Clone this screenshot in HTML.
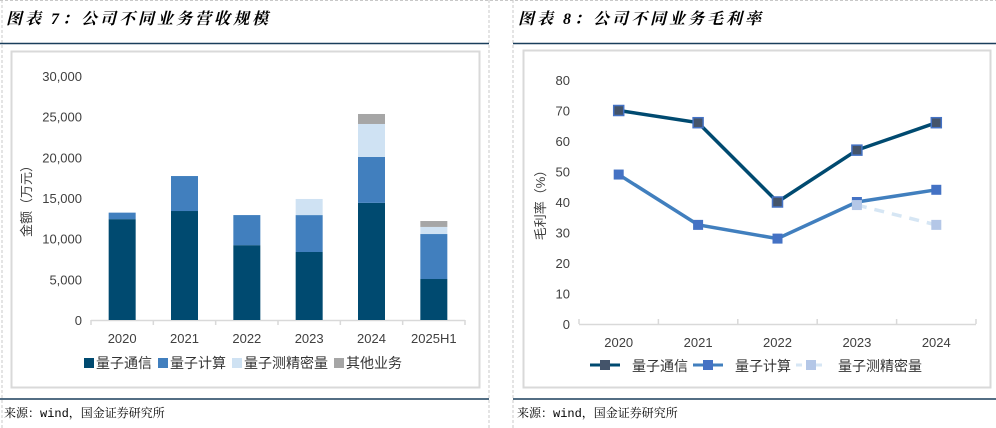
<!DOCTYPE html>
<html><head><meta charset="utf-8">
<style>
body{margin:0;width:996px;height:428px;background:#fff;overflow:hidden;font-family:"Liberation Sans","Noto Sans CJK SC",sans-serif;}
svg{position:absolute;left:0;top:0}
</style></head><body>
<svg id="s" width="996" height="428">
<line x1="2" y1="0" x2="2" y2="428" stroke="#c8c8c8" stroke-dasharray="3,2"/>
<line x1="489" y1="0" x2="489" y2="428" stroke="#c8c8c8" stroke-dasharray="3,2"/>
<line x1="513" y1="0" x2="513" y2="428" stroke="#c8c8c8" stroke-dasharray="3,2"/>
<line x1="0" y1="0.5" x2="996" y2="0.5" stroke="#c8c8c8" stroke-dasharray="3,2"/>
<text x="6" y="24" font-size="16" font-weight="bold" font-style="italic" letter-spacing="3" font-family="'Liberation Serif','Noto Serif CJK SC',serif">图表 7：公司不同业务营收规模</text>
<text x="518" y="24" font-size="16" font-weight="bold" font-style="italic" letter-spacing="3" font-family="'Liberation Serif','Noto Serif CJK SC',serif">图表 8：公司不同业务毛利率</text>
<line x1="0" y1="43.5" x2="489" y2="43.5" stroke="#1a3f5c" stroke-width="1.5"/>
<line x1="513" y1="43.5" x2="996" y2="43.5" stroke="#1a3f5c" stroke-width="1.5"/>
<line x1="0" y1="399" x2="489" y2="399" stroke="#1a3f5c" stroke-width="1.5"/>
<line x1="513" y1="399" x2="996" y2="399" stroke="#1a3f5c" stroke-width="1.5"/>
<text x="4" y="417" font-size="12" font-family="'Liberation Mono','Noto Serif CJK SC',monospace">来源：wind，国金证券研究所</text>
<text x="517" y="417" font-size="12" font-family="'Liberation Mono','Noto Serif CJK SC',monospace">来源：wind，国金证券研究所</text>
<rect x="11.5" y="51.5" width="468" height="336" fill="none" stroke="#d9d9d9" stroke-width="2"/>
<rect x="523.5" y="50.5" width="467" height="337" fill="none" stroke="#d9d9d9" stroke-width="2"/>
<g id="c7"></g><g id="c8"></g>
</svg>
<script>
const cats7 = ["2020","2021","2022","2023","2024","2025H1"];
const comm7 = [12400,13400,9200,8360,14400,5040];
const comp7 = [800,4300,3700,4540,5650,5530];
const meas7 = [0,0,0,1980,4050,870];
const other7 = [0,0,0,0,1230,730];
const ticks7 = [0,5000,10000,15000,20000,25000,30000];
const cats8 = ["2020","2021","2022","2023","2024"];
const comm8 = [70,66,40,57,66];
const comp8 = [49,32.5,28,40,44];
const meas8 = [null,null,null,39,32.5];
const ticks8 = [0,10,20,30,40,50,60,70,80];

const NS="http://www.w3.org/2000/svg";
function mk(parent,tag,attrs){const e=document.createElementNS(NS,tag);for(const k in attrs)e.setAttribute(k,attrs[k]);parent.appendChild(e);return e;}
const g7=document.getElementById('c7'), g8=document.getElementById('c8');
const txtFill="#404040";

// Chart 7
const y7=v=>320-v*(244/30000);
const x0=91,x1=465,bw=(x1-x0)/cats7.length;
const x7=i=>x0+bw*(i+0.5);
ticks7.forEach(t=>{const e=mk(g7,'text',{x:82,y:y7(t)+5,'font-size':13,'text-anchor':'end',fill:txtFill});e.textContent=t.toLocaleString('en-US');

});
const ax=mk(g7,'line',{x1:x0,y1:320.5,x2:x1,y2:320.5,stroke:'#d9d9d9','stroke-width':1.5});


for(let i=0;i<=cats7.length;i++){const t=mk(g7,'line',{x1:x0+bw*i,y1:320,x2:x0+bw*i,y2:325,stroke:'#d9d9d9','stroke-width':1.5});

}
const series7=[[comm7,'#004a70','bar-quantum-comm'],[comp7,'#417fbe','bar-quantum-compute'],[meas7,'#cfe2f3','bar-quantum-measure'],[other7,'#a6a6a6','bar-other']];
cats7.forEach((c,i)=>{let base=0;series7.forEach(([arr,col,nm])=>{const v=arr[i];if(v>0){const r=mk(g7,'rect',{x:x7(i)-13.5,y:y7(base+v),width:27,height:y7(base)-y7(base+v),fill:col});

}base+=v;});
const l=mk(g7,'text',{x:x7(i),y:343,'font-size':13,'text-anchor':'middle',fill:txtFill});l.textContent=c;

});
const yt=mk(g7,'text',{transform:'translate(31,198) rotate(-90)','font-size':13,'text-anchor':'middle',fill:txtFill});yt.textContent='金额（万元）';


const leg7=[['量子通信','#004a70',84],['量子计算','#417fbe',158],['量子测精密量','#cfe2f3',232],['其他业务','#a6a6a6',334]];
leg7.forEach(([n,c,x])=>{const g=mk(g7,'g',{});


mk(g,'rect',{x:x,y:358,width:10,height:10,fill:c});const t=mk(g,'text',{x:x+12,y:368,'font-size':14,fill:'#333'});t.textContent=n;});

// Chart 8
const y8=v=>324-v*(244/80);
const a0=579,a1=976,bw8=(a1-a0)/cats8.length;
const x8=i=>a0+bw8*(i+0.5);
ticks8.forEach(t=>{const e=mk(g8,'text',{x:570,y:y8(t)+5,'font-size':13,'text-anchor':'end',fill:txtFill});e.textContent=t;

});
const ax8=mk(g8,'line',{x1:a0,y1:324.5,x2:a1,y2:324.5,stroke:'#d9d9d9','stroke-width':1.5});


for(let i=0;i<=cats8.length;i++){const t=mk(g8,'line',{x1:a0+bw8*i,y1:319,x2:a0+bw8*i,y2:324,stroke:'#d9d9d9','stroke-width':1.5});

}
cats8.forEach((c,i)=>{const l=mk(g8,'text',{x:x8(i),y:347,'font-size':13,'text-anchor':'middle',fill:txtFill});l.textContent=c;

});
const yt8=mk(g8,'text',{transform:'translate(545,202) rotate(-90)','font-size':13,'text-anchor':'middle',fill:txtFill});yt8.textContent='毛利率（%）';


function line8(arr,col,fillc,stroke,dash,nm){
 const pts=[];arr.forEach((v,i)=>{if(v!=null)pts.push([x8(i),y8(v)]);});
 const p=mk(g8,'polyline',{points:pts.map(p=>p.join(',')).join(' '),fill:'none',stroke:col,'stroke-width':3.5,'stroke-dasharray':dash||'none'});
 
 
 pts.forEach(([x,y])=>{const m=mk(g8,'rect',{x:x-5,y:y-5,width:10,height:10,fill:fillc,stroke:stroke,'stroke-width':stroke==='none'?0:1.5});
 
 });
}
line8(comp8,'#417fbe','#4472c4','none','', 'quantum-compute');
line8(meas8,'#d6e6f4','#b4c7e7','none','10,8','quantum-measure');
line8(comm8,'#004a70','#44546a','#4472c4','', 'quantum-comm');
const leg8=[['量子通信','#004a70','#44546a',590,'',632],['量子计算','#417fbe','#4472c4',693,'',735],['量子测精密量','#d6e6f4','#b4c7e7',796,'6,4',838]];
leg8.forEach(([n,c,f,x,d,tx])=>{const g=mk(g8,'g',{});


mk(g,'line',{x1:x,y1:365,x2:x+30,y2:365,stroke:c,'stroke-width':3,'stroke-dasharray':d||'none'});
mk(g,'rect',{x:x+10,y:360,width:10,height:10,fill:f});
const t=mk(g,'text',{x:tx,y:371,'font-size':14,fill:'#333'});t.textContent=n;});
</script>
</body></html>
